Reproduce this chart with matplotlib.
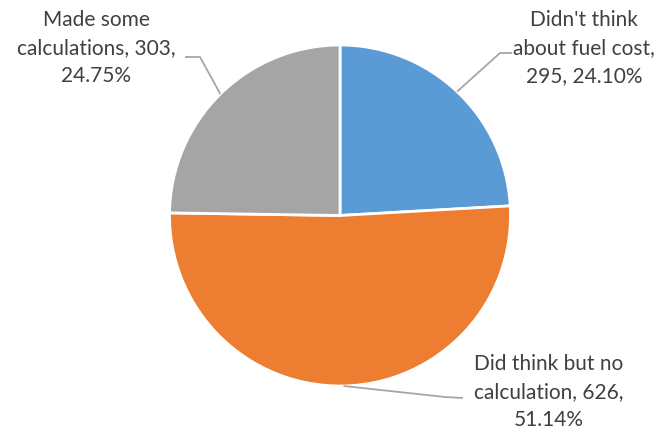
import numpy as np
import matplotlib.pyplot as plt

# Survey answers about fuel cost
labels = ["Didn't think about fuel cost", "Did think but no calculation", "Made some calculations"]
counts = [295, 626, 303]
percents = [24.10, 51.14, 24.75]
colors = ["#5B9BD5", "#ED7D31", "#A5A5A5"]

# how each data label wraps
label_fmt = [
    "Didn't think\nabout fuel cost,\n{n}, {p:.2f}%",
    "Did think but no\ncalculation, {n},\n{p:.2f}%",
    "Made some\ncalculations, {n},\n{p:.2f}%",
]

W, H = 669, 436
fig = plt.figure(figsize=(W / 100, H / 100), dpi=100)
ax = fig.add_axes([0, 0, 1, 1])

cx, cy, r = 340, H - 215.5, 170.5
wedges, _ = ax.pie(counts, colors=colors, startangle=90, counterclock=False,
                   center=(cx, cy), radius=r,
                   wedgeprops=dict(edgecolor="white", linewidth=2))
ax.set_xlim(0, W)
ax.set_ylim(0, H)
ax.set_aspect("equal")
ax.axis("off")

# label centre, leader elbow, end of horizontal run (pixel coords from top)
label_pos = [(584, 48), (549, 392), (96, 48)]
elbows = [(500, 53), (445, 397), (200, 57)]
ends = [(512, 53), (463, 398), (185, 57)]

for w, fmt, n, p, (tx, ty), (ex, ey), (hx, hy) in zip(
        wedges, label_fmt, counts, percents, label_pos, elbows, ends):
    mid = np.deg2rad((w.theta1 + w.theta2) / 2)
    ax0 = cx + r * np.cos(mid)
    ay0 = cy + r * np.sin(mid)
    ax.plot([ax0, ex, hx], [ay0, H - ey, H - hy], color="#A6A6A6", lw=1.3,
            solid_capstyle="butt")
    ax.text(tx, H - ty, fmt.format(n=n, p=p),
            ha="center", va="center", fontsize=15, color="#404040",
            family="Lato", linespacing=1.5)

fig.savefig("out.png", dpi=100)
